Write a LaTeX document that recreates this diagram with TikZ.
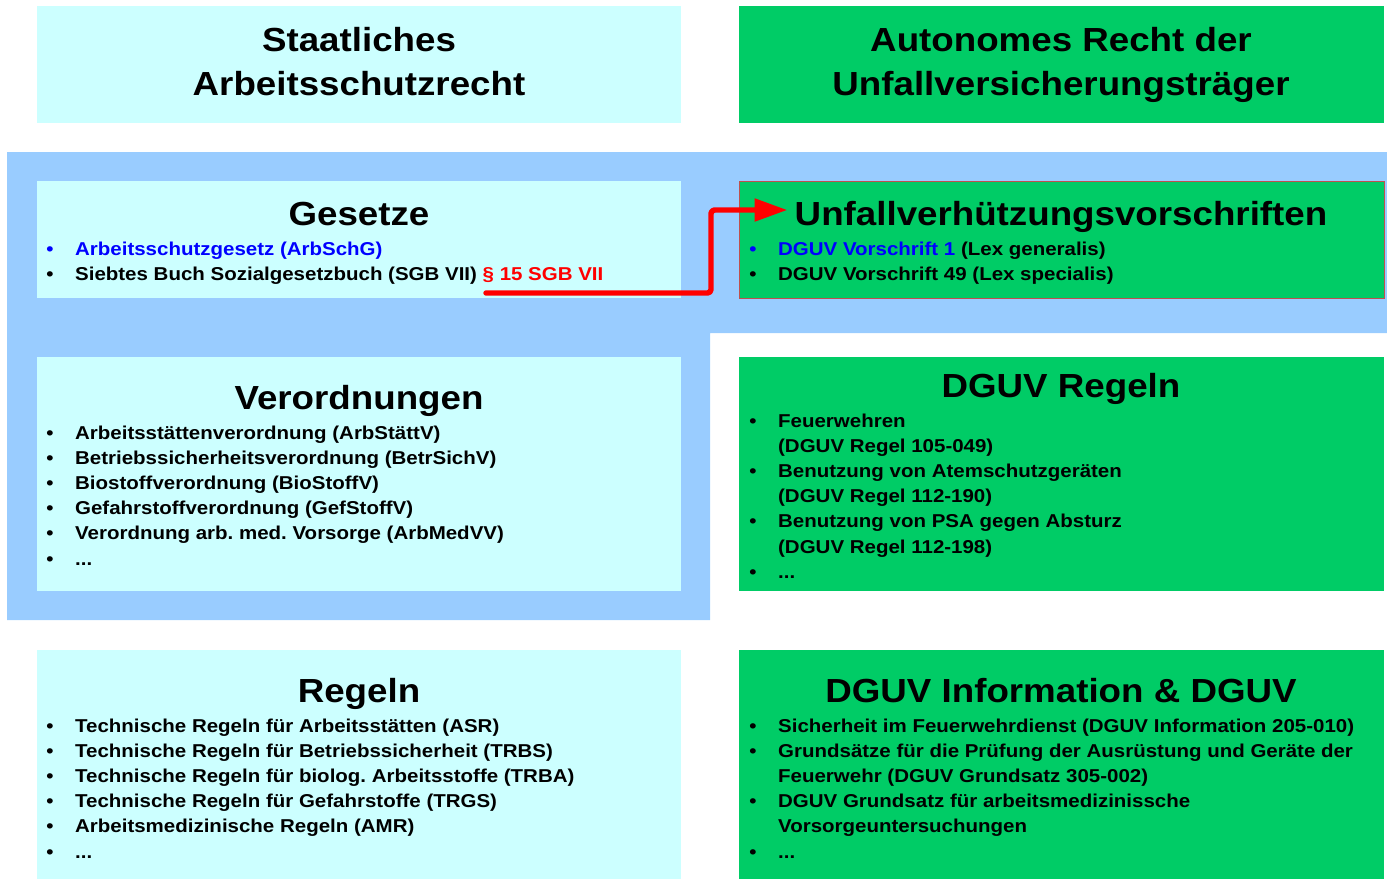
\documentclass[tikz,border=0pt]{standalone}
\usepackage{fontspec}
\setmainfont[FakeStretch = 1.1]{Liberation Sans}
\definecolor{staatcyan}{HTML}{CCFFFF}
\definecolor{dguvgreen}{HTML}{00CC66}
\definecolor{backblue}{HTML}{99CCFF}
\definecolor{uvvred}{HTML}{C0504D}
\definecolor{linkblue}{HTML}{0000FF}
\usetikzlibrary{arrows.meta, positioning, calc}
\frenchspacing
\newcommand{\itemlist}[1]{\begin{tabular}[t]{@{}p{16.4pt}@{}l@{}}#1\end{tabular}}
\newcommand{\bul}{\textbullet}

\begin{document}
\begin{tikzpicture}[x = 0.02cm, y = -0.02cm,
		staatbox/.style = {fill = staatcyan, anchor = north west, inner sep = 0pt, minimum width = 12.88cm},
		dguvbox/.style = {fill = dguvgreen, anchor = north west, inner sep = 0pt, minimum width = 12.9cm},
		title/.style = {font = \fontsize{19}{24.5}\selectfont\bfseries, align = center, anchor = base, inner sep = 0pt},
		head/.style = {font = \fontsize{19}{23}\selectfont\bfseries, anchor = base, inner sep = 0pt},
		lst/.style = {font = \fontsize{10.6}{14.35}\selectfont\bfseries, anchor = base west, inner sep = 0pt},
		flow/.style = {draw = red, line width = 3.1pt, line cap = round, line join = round, rounded corners = 2pt, shorten > = 4pt, -{Triangle[length = 18.7pt, width = 12.5pt]}}]
		\useasboundingbox (0,0) rectangle (1387,879);
		\fill[backblue] (7,152) -- (1387,152) -- (1387,333) -- (710,333) -- (710,620) -- (7,620) -- cycle;
		\node[staatbox, minimum height = 2.34cm] (staat) at (37,6) {};
		\node[dguvbox, minimum height = 2.34cm] (auto) at (739,6) {};
		\node[title] (staatT) at (359,95) {Staatliches\\Arbeitsschutzrecht};
		\node[title] (autoT) at (1061,95) {Autonomes Recht der\\Unfallversicherungsträger};

		\node[staatbox, minimum height = 2.34cm] (ges) at (37,181) {};
		\node[dguvbox, minimum height = 2.34cm, draw = uvvred, line width = 0.6pt] (uvv) at (739,181) {};
		\node[head] (gesH) at (359,225) {Gesetze};
		\node[head] (uvvH) at (1061,225) {Unfallverhützungsvorschriften};
		\node[lst] (gesL) at (46,255) {\itemlist{
				\textcolor{linkblue}{\bul} & \textcolor{linkblue}{Arbeitsschutzgesetz (ArbSchG)}\\
				\bul & Siebtes Buch Sozialgesetzbuch (SGB VII) \textcolor{red}{§ 15 SGB VII}\\}};
		\node[lst] (uvvL) at (749,255) {\itemlist{
				\textcolor{linkblue}{\bul} & \textcolor{linkblue}{DGUV Vorschrift 1} (Lex generalis)\\
				\bul & DGUV Vorschrift 49 (Lex specialis)\\}};

		\node[staatbox, minimum height = 4.68cm] (vo) at (37,357) {};
		\node[dguvbox, minimum height = 4.68cm] (dreg) at (739,357) {};
		\node[head] (voH) at (359,409) {Verordnungen};
		\node[head] (dregH) at (1061,397) {DGUV Regeln};
		\node[lst] (voL) at (46,439) {\itemlist{
				\bul & Arbeitsstättenverordnung (ArbStättV)\\
				\bul & Betriebssicherheitsverordnung (BetrSichV)\\
				\bul & Biostoffverordnung (BioStoffV)\\
				\bul & Gefahrstoffverordnung (GefStoffV)\\
				\bul & Verordnung arb. med. Vorsorge (ArbMedVV)\\
				\bul & ...\\}};
		\node[lst] (dregL) at (749,427) {\itemlist{
				\bul & Feuerwehren\\
				& (DGUV Regel 105-049)\\
				\bul & Benutzung von Atemschutzgeräten\\
				& (DGUV Regel 112-190)\\
				\bul & Benutzung von PSA gegen Absturz\\
				& (DGUV Regel 112-198)\\
				\bul & ...\\}};

		\node[staatbox, minimum height = 4.58cm] (reg) at (37,650) {};
		\node[dguvbox, minimum height = 4.58cm] (dinf) at (739,650) {};
		\node[head] (regH) at (359,702) {Regeln};
		\node[head] (dinfH) at (1061,702) {DGUV Information \& DGUV};
		\node[lst] (regL) at (46,732) {\itemlist{
				\bul & Technische Regeln für Arbeitsstätten (ASR)\\
				\bul & Technische Regeln für Betriebssicherheit (TRBS)\\
				\bul & Technische Regeln für biolog. Arbeitsstoffe (TRBA)\\
				\bul & Technische Regeln für Gefahrstoffe (TRGS)\\
				\bul & Arbeitsmedizinische Regeln (AMR)\\
				\bul & ...\\}};
		\node[lst] (dinfL) at (749,732) {\itemlist{
				\bul & Sicherheit im Feuerwehrdienst (DGUV Information 205-010)\\
				\bul & Grundsätze für die Prüfung der Ausrüstung und Geräte der\\
				& Feuerwehr (DGUV Grundsatz 305-002)\\
				\bul & DGUV Grundsatz für arbeitsmedizinissche\\
				& Vorsorgeuntersuchungen\\
				\bul & ...\\}};

		\coordinate (p15) at (486,293);
		\coordinate (bend) at (711,210);
		\draw[flow] (p15) -| (bend) -- (bend -| uvvH.west);
	\end{tikzpicture}
\end{document}
